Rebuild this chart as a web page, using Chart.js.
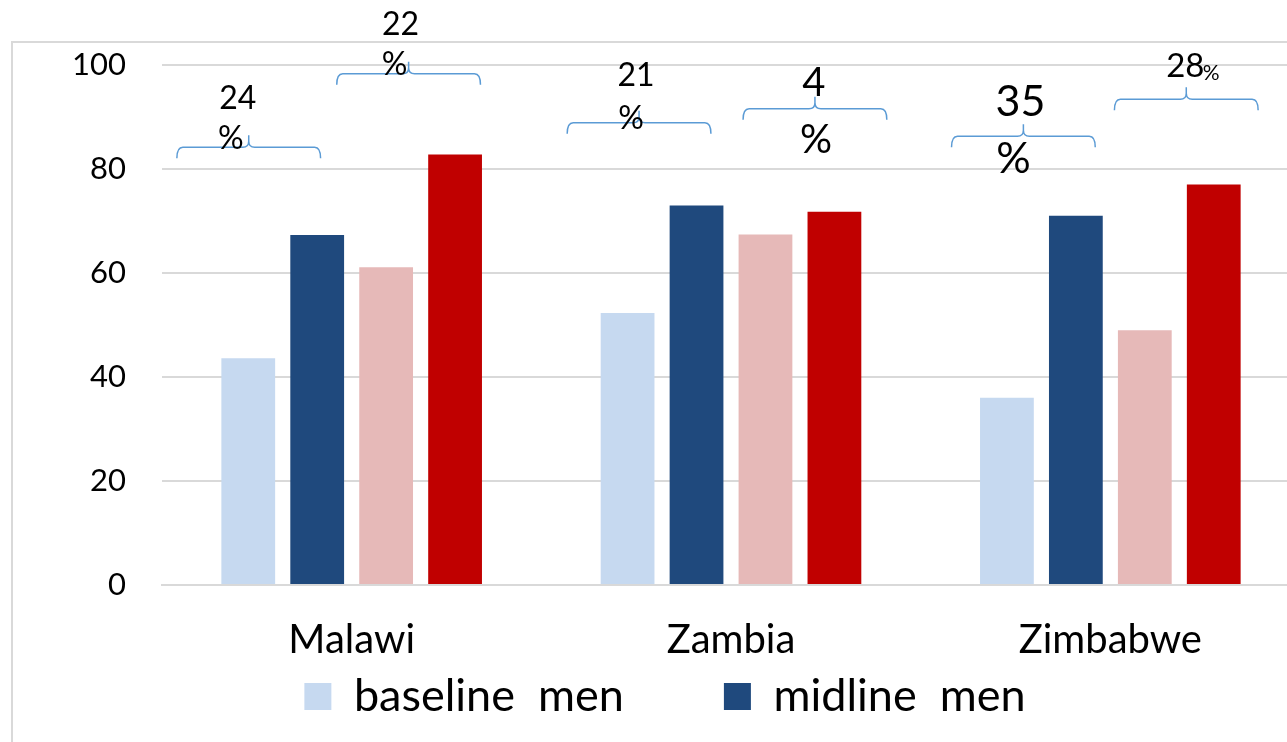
<!DOCTYPE html>
<html>
<head>
<meta charset="utf-8">
<script src="https://cdn.jsdelivr.net/npm/chart.js@4.4.1/dist/chart.umd.min.js"></script>
<style>
  html, body { margin: 0; padding: 0; background: #fff; overflow: hidden; }
  #wrap { width: 1287px; height: 742px; overflow: hidden; }
</style>
</head>
<body>
<div id="wrap"><canvas id="chart" width="1330" height="742"></canvas></div>
<script>
const categories = ['Malawi', 'Zambia', 'Zimbabwe'];
const baselineMen = [43.6, 52.3, 36.0];
const midlineMen = [67.3, 73.0, 71.0];
const baselineWomen = [61.1, 67.4, 49.0];
const midlineWomen = [82.8, 71.8, 77.0];
const seriesNames = ['baseline  men', 'midline  men', 'baseline  women', 'midline  women'];
const yMin = 0, yMax = 100, yStep = 20;

// % change from baseline to midline: men then women for each country
const changeLabels = ['24', '22', '21', '4', '35', '28'];

const FONT = 'Lato, Calibri, "Open Sans", sans-serif';

// where each bracket sits (pixel nudges and level on the y scale)
const bracketStyle = [
  { level: 84.2, dx: -34, num: { size: 32, dx: -11, dy: -36 }, pct: { size: 32, dx: -18, dy: 4 } },
  { level: 98.3, dx: -12, num: { size: 32, dx: -8, dy: -37 }, pct: { size: 32, dx: -14, dy: 3 } },
  { level: 88.9, dx: -23, num: { size: 32, dx: -3, dy: -35 }, pct: { size: 32, dx: -8, dy: 8 } },
  { level: 91.6, dx: 15, num: { size: 40, dx: -1, dy: -14 }, pct: { size: 40, dx: 1, dy: 43 } },
  { level: 86.3, dx: -18, num: { size: 43, dx: -3, dy: -22 }, pct: { size: 43, dx: -10, dy: 35 } },
  { level: 93.4, dx: 7, num: { size: 33, dx: -1, dy: -21 }, pct: { size: 21, dx: 25, dy: -14 } }
];

const frame = {
  id: 'frame',
  beforeDraw(chart) {
    const ctx = chart.ctx;
    ctx.save();
    ctx.strokeStyle = '#d9d9d9';
    ctx.lineWidth = 2;
    ctx.beginPath();
    ctx.moveTo(12, chart.height);
    ctx.lineTo(12, 42);
    ctx.lineTo(chart.width, 42);
    ctx.stroke();
    ctx.restore();
  }
};

function drawBrace(ctx, left, right, mid, y) {
  const h = 11, up = 12, r = 6;
  ctx.beginPath();
  ctx.moveTo(left, y + h);
  ctx.quadraticCurveTo(left, y, left + r, y);
  ctx.lineTo(mid - r, y);
  ctx.quadraticCurveTo(mid, y, mid, y - r);
  ctx.lineTo(mid, y - up);
  ctx.moveTo(mid, y - r);
  ctx.quadraticCurveTo(mid, y, mid + r, y);
  ctx.lineTo(right - r, y);
  ctx.quadraticCurveTo(right, y, right, y + h);
  ctx.stroke();
}

const braces = {
  id: 'braces',
  afterDraw(chart) {
    const ctx = chart.ctx;
    const yScale = chart.scales.y;
    ctx.save();
    ctx.strokeStyle = '#5b9bd5';
    ctx.lineWidth = 1.5;
    ctx.fillStyle = '#000';
    ctx.textAlign = 'center';
    ctx.textBaseline = 'middle';
    changeLabels.forEach((txt, k) => {
      const i = Math.floor(k / 2);
      const first = k % 2 === 0 ? 0 : 2;
      const a = chart.getDatasetMeta(first).data[i];
      const b = chart.getDatasetMeta(first + 1).data[i];
      const s = bracketStyle[k];
      const width = (b.x + b.width / 2) - (a.x - a.width / 2) + 21;
      const mid = (a.x + b.x) / 2 + s.dx;
      const y = yScale.getPixelForValue(s.level);
      drawBrace(ctx, mid - width / 2, mid + width / 2, mid, y);
      const peak = y - 12;
      ctx.font = s.num.size + 'px ' + FONT;
      ctx.fillText(txt, mid + s.num.dx, peak + s.num.dy);
      ctx.font = s.pct.size + 'px ' + FONT;
      ctx.fillText('%', mid + s.pct.dx, peak + s.pct.dy);
    });
    ctx.restore();
  }
};

new Chart(document.getElementById('chart'), {
  type: 'bar',
  data: {
    labels: categories,
    datasets: [
      { label: seriesNames[0], data: baselineMen, backgroundColor: '#c6d9f0' },
      { label: seriesNames[1], data: midlineMen, backgroundColor: '#1f497d' },
      { label: seriesNames[2], data: baselineWomen, backgroundColor: '#e6b9b8' },
      { label: seriesNames[3], data: midlineWomen, backgroundColor: '#c00000' }
    ]
  },
  options: {
    responsive: false,
    animation: false,
    devicePixelRatio: 1,
    layout: { padding: { top: 65, left: 30, right: 30, bottom: 13 } },
    datasets: { bar: { categoryPercentage: 0.727, barPercentage: 0.78, borderWidth: 0 } },
    scales: {
      x: {
        grid: { display: false, drawTicks: false },
        border: { display: true, color: '#d9d9d9', width: 2 },
        ticks: { color: '#000', padding: 31, font: { family: FONT, size: 40 } },
        afterFit(scale) { scale.height = 79; }
      },
      y: {
        min: yMin,
        max: yMax,
        ticks: { stepSize: yStep, color: '#000', padding: 36, font: { family: FONT, size: 31 } },
        grid: { color: '#d9d9d9', lineWidth: 2, drawTicks: false },
        border: { display: false },
        afterFit(scale) { scale.width = 132; }
      }
    },
    plugins: {
      tooltip: { enabled: false },
      legend: {
        position: 'bottom',
        labels: {
          color: '#000',
          boxWidth: 27,
          boxHeight: 27,
          padding: 10,
          font: { family: FONT, size: 45 },
          generateLabels(chart) {
            const items = Chart.defaults.plugins.legend.labels.generateLabels(chart).slice(0, 2);
            // extra room after the first entry, as in the original legend
            items[0].text = items[0].text + '\u2003\u2003\u2002';
            return items;
          }
        }
      }
    }
  },
  plugins: [frame, braces]
});
</script>
</body>
</html>
